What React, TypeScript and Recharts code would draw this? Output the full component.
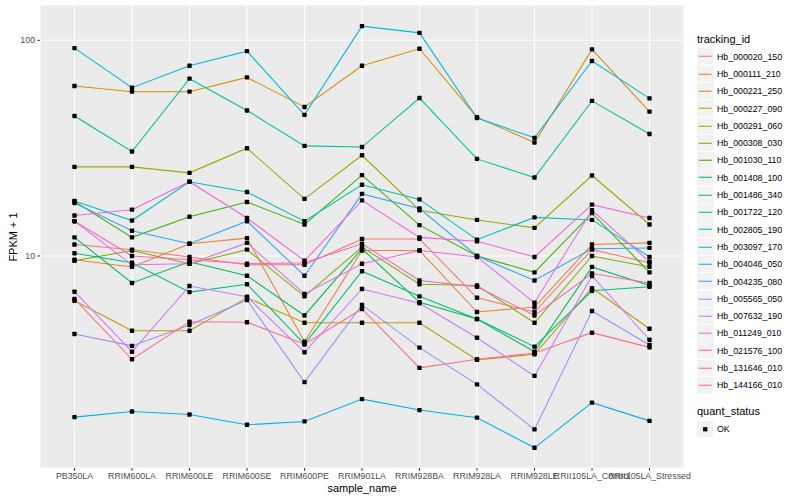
import { CartesianGrid, Line, LineChart, XAxis, YAxis } from "recharts";

const samples = [
  "PB350LA",
  "RRIM600LA",
  "RRIM600LE",
  "RRIM600SE",
  "RRIM600PE",
  "RRIM901LA",
  "RRIM928BA",
  "RRIM928LA",
  "RRIM928LE",
  "RRII105LA_Control",
  "RRII105LA_Stressed",
];

const trackingIds = [
  "Hb_000020_150",
  "Hb_000111_210",
  "Hb_000221_250",
  "Hb_000227_090",
  "Hb_000291_060",
  "Hb_000308_030",
  "Hb_001030_110",
  "Hb_001408_100",
  "Hb_001486_340",
  "Hb_001722_120",
  "Hb_002805_190",
  "Hb_003097_170",
  "Hb_004046_050",
  "Hb_004235_080",
  "Hb_005565_050",
  "Hb_007632_190",
  "Hb_011249_010",
  "Hb_021576_100",
  "Hb_131646_010",
  "Hb_144166_010",
];

// ggplot hue palette, 20 levels
const colours = [
  "#F8766D", "#EA8331", "#D89000", "#C09B00", "#A3A500",
  "#7CAE00", "#39B600", "#00BB4E", "#00BF7D", "#00C1A3",
  "#00BFC4", "#00BAE0", "#00B0F6", "#35A2FF", "#9590FF",
  "#C77CFF", "#E76BF3", "#FA62DB", "#FF62BC", "#FF6C91",
];

// FPKM + 1, one value per sample
const hb000020_150 = [11.3, 10.7, 9.9, 9.1, 9.1, 12.0, 12.0, 6.4, 5.5, 10.7, 9.3];
const hb000111_210 = [9.6, 8.9, 11.4, 12.1, 4.0, 10.6, 10.6, 5.5, 5.8, 11.3, 11.5];
const hb000221_250 = [61.4, 57.8, 57.8, 67.3, 49.1, 76.2, 91.4, 44.0, 33.6, 90.8, 46.7];
const hb000227_090 = [6.2, 4.5, 4.5, 6.4, 4.9, 4.9, 4.9, 3.3, 3.5, 7.1, 4.6];
const hb000291_060 = [25.9, 25.9, 24.3, 31.6, 18.4, 29.3, 16.3, 14.7, 13.5, 23.6, 14.0];
const hb000308_030 = [9.5, 10.6, 9.2, 10.7, 6.5, 11.0, 7.4, 7.3, 4.9, 10.0, 8.9];
const hb001030_110 = [17.9, 12.2, 15.2, 17.8, 14.0, 23.7, 13.9, 10.0, 8.4, 15.8, 8.4];
const hb001408_100 = [12.2, 7.5, 9.4, 8.1, 5.3, 10.8, 6.1, 5.1, 3.6, 8.9, 7.3];
const hb001486_340 = [10.3, 9.3, 6.8, 7.4, 3.9, 8.5, 6.5, 5.1, 3.8, 6.9, 7.2];
const hb001722_120 = [44.6, 30.5, 66.4, 47.3, 32.4, 32.0, 54.0, 28.2, 23.1, 52.4, 36.8];
const hb002805_190 = [18.0, 14.6, 22.1, 19.8, 14.5, 21.4, 18.3, 11.9, 15.1, 14.7, 9.9];
const hb003097_170 = [92.0, 60.3, 76.2, 89.1, 45.1, 116.4, 108.3, 43.6, 35.3, 80.2, 53.8];
const hb004046_050 = [1.79, 1.9, 1.84, 1.65, 1.71, 2.17, 1.93, 1.78, 1.29, 2.09, 1.72];
const hb004235_080 = [17.6, 13.1, 11.4, 14.5, 8.1, 19.4, 16.6, 10.0, 7.7, 10.8, 10.9];
const hb005565_050 = [4.35, 3.83, 4.79, 6.25, 2.6, 5.93, 3.76, 2.54, 1.57, 5.56, 3.87];
const hb007632_190 = [6.83, 3.6, 7.26, 6.48, 3.58, 7.03, 6.04, 4.18, 2.78, 8.08, 4.09];
const hb011249_010 = [14.5, 9.1, 9.2, 11.5, 6.67, 9.2, 10.6, 9.9, 6.07, 16.3, 9.4];
const hb021576_100 = [15.4, 16.4, 22.1, 15.0, 9.5, 18.1, 12.2, 11.7, 9.9, 17.3, 15.0];
const hb131646_010 = [14.5, 10.0, 9.6, 9.2, 9.3, 11.4, 7.7, 7.2, 5.3, 8.3, 7.5];
const hb144166_010 = [6.32, 3.32, 4.96, 4.93, 3.9, 5.68, 3.03, 3.32, 3.55, 4.41, 3.77];

const fpkm = [
  hb000020_150, hb000111_210, hb000221_250, hb000227_090, hb000291_060,
  hb000308_030, hb001030_110, hb001408_100, hb001486_340, hb001722_120,
  hb002805_190, hb003097_170, hb004046_050, hb004235_080, hb005565_050,
  hb007632_190, hb011249_010, hb021576_100, hb131646_010, hb144166_010,
];

const yTicks = [10, 100];
const yMinor = [3.162, 31.62];
const xTicks = samples.map((_, i) => i);

const data = samples.map((name, i) => {
  const row: Record<string, number | string> = { idx: i, name };
  trackingIds.forEach((id, s) => {
    row[id] = fpkm[s][i];
  });
  return row;
});

const font = '"Liberation Sans", Arial, Helvetica, sans-serif';

const square = (props: any) => {
  const { cx, cy, index, dataKey } = props;
  const k = `${dataKey}-${index}`;
  if (cx == null || cy == null) return <g key={k} />;
  return <rect key={k} x={cx - 2.2} y={cy - 2.2} width={4.4} height={4.4} rx={0.8} fill="#000" />;
};

const minorRows = ({ yAxis }: any) =>
  typeof yAxis?.scale === "function" ? yMinor.map((v) => yAxis.scale(v)) : [];

export default function App() {
  return (
    <div
      style={{
        position: "absolute",
        left: 0,
        top: 0,
        width: 800,
        height: 500,
        background: "#fff",
        fontFamily: font,
      }}
    >
      <LineChart
        width={800}
        height={500}
        data={data}
        margin={{ top: 5, right: 116, bottom: 0, left: 0 }}
      >
        <CartesianGrid
          fill="#EBEBEB"
          stroke="#fff"
          strokeWidth={0.55}
          vertical={false}
          horizontalCoordinatesGenerator={minorRows}
        />
        <CartesianGrid stroke="#fff" strokeWidth={1.07} />
        <XAxis
          type="number"
          dataKey="idx"
          domain={[-0.6, 10.6]}
          ticks={xTicks}
          interval={0}
          tickFormatter={(i: number) => samples[i]}
          height={32}
          axisLine={false}
          tickSize={2.75}
          tickMargin={2.2}
          tickLine={{ stroke: "#333333" }}
          tick={{ fontSize: 8.8, fill: "#4D4D4D", fontFamily: font }}
        />
        <YAxis
          type="number"
          scale="log"
          domain={[1.04, 145.8]}
          allowDataOverflow
          ticks={yTicks}
          width={40}
          axisLine={false}
          tickSize={2.75}
          tickMargin={2.2}
          tickLine={{ stroke: "#333333" }}
          tick={{ fontSize: 8.8, fill: "#4D4D4D", fontFamily: font }}
        />
        {trackingIds.map((id, s) => (
          <Line
            key={id}
            type="linear"
            dataKey={id}
            stroke={colours[s]}
            strokeWidth={1.07}
            dot={false}
            activeDot={false}
            isAnimationActive={false}
          />
        ))}
        {trackingIds.map((id) => (
          <Line
            key={`${id}-pts`}
            type="linear"
            dataKey={id}
            stroke="none"
            dot={square}
            activeDot={false}
            legendType="none"
            isAnimationActive={false}
          />
        ))}
      </LineChart>

      <div
        style={{
          position: "absolute",
          left: 13,
          top: 236.5,
          transform: "translate(-50%, -50%) rotate(-90deg)",
          fontSize: 11,
          whiteSpace: "nowrap",
        }}
      >
        FPKM + 1
      </div>
      <div
        style={{
          position: "absolute",
          left: 362,
          top: 488,
          transform: "translate(-50%, -50%)",
          fontSize: 11,
          whiteSpace: "nowrap",
        }}
      >
        sample_name
      </div>

      <div style={{ position: "absolute", left: 697, top: 33, fontSize: 11, lineHeight: "13px" }}>
        tracking_id
      </div>
      {trackingIds.map((id, s) => (
        <div
          key={id}
          style={{
            position: "absolute",
            left: 697,
            top: 48 + s * 17.3,
            height: 17.3,
            display: "flex",
            alignItems: "center",
          }}
        >
          <svg width={16.5} height={16.5} style={{ display: "block" }}>
            <rect width={16.5} height={16.5} fill="#F2F2F2" />
            <line x1={1.7} x2={14.8} y1={8.25} y2={8.25} stroke={colours[s]} strokeWidth={1.07} />
          </svg>
          <span style={{ marginLeft: 3.5, fontSize: 8.8, color: "#000", whiteSpace: "nowrap" }}>{id}</span>
        </div>
      ))}
      <div style={{ position: "absolute", left: 697, top: 405, fontSize: 11, lineHeight: "13px" }}>
        quant_status
      </div>
      <div
        style={{
          position: "absolute",
          left: 697,
          top: 420.5,
          height: 17.3,
          display: "flex",
          alignItems: "center",
        }}
      >
        <svg width={16.5} height={16.5} style={{ display: "block" }}>
          <rect width={16.5} height={16.5} fill="#F2F2F2" />
          <rect x={6.1} y={6.1} width={4.3} height={4.3} fill="#000" />
        </svg>
        <span style={{ marginLeft: 3.5, fontSize: 8.8, whiteSpace: "nowrap" }}>OK</span>
      </div>
    </div>
  );
}
